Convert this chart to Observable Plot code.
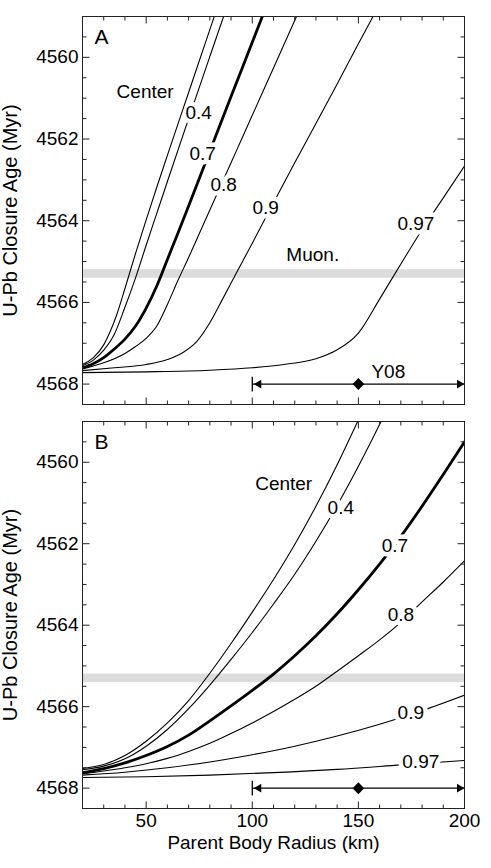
<!DOCTYPE html>
<html><head><meta charset="utf-8">
<script src="https://cdn.jsdelivr.net/npm/d3@7"></script>
<script src="https://cdn.jsdelivr.net/npm/@observablehq/plot@0.6"></script>
<style>
body{margin:0;background:#fff;}
#chart svg{display:block;}
</style></head><body><div id="chart"></div>
<script>
// ---- scales / ticks ----
const xDomain = [20, 200];
const yDomain = [4568.5, 4559];
const xMajorTicks = [50, 100, 150, 200];
const xMinorTicks = [30, 40, 60, 70, 80, 90, 110, 120, 130, 140, 160, 170, 180, 190];
const yMajorTicks = [4560, 4562, 4564, 4566, 4568];
const yMinorTicks = [4559.5, 4560.5, 4561, 4561.5, 4562.5, 4563, 4563.5, 4564.5, 4565, 4565.5, 4566.5, 4567, 4567.5];
const xTitle = "Parent Body Radius (km)";
const yTitle = "U-Pb Closure Age (Myr)";

// ---- panel A curves: [radius km, closure age Myr] ----
const A_center = [[20,4567.52],[25,4567.36],[30,4567.04],[33,4566.72],[36,4566.32],[40,4565.66],[45,4564.8],[50,4563.98],[55,4563.18],[60,4562.4],[70,4560.86],[80,4559.32],[86,4558.4]];
const A_04 = [[20,4567.55],[25,4567.42],[30,4567.17],[35,4566.78],[40,4566.12],[45,4565.4],[50,4564.6],[55,4563.82],[60,4563.04],[70,4561.5],[80,4559.98],[90,4558.47]];
const A_07 = [[20,4567.6],[25,4567.5],[30,4567.35],[35,4567.14],[40,4566.9],[45,4566.58],[50,4566.14],[55,4565.6],[60,4564.95],[65,4564.3],[70,4563.64],[80,4562.3],[90,4560.96],[100,4559.63],[106,4558.83]];
const A_08 = [[20,4567.63],[30,4567.48],[40,4567.25],[45,4567.08],[50,4566.88],[55,4566.58],[60,4566.05],[65,4565.46],[70,4564.9],[75,4564.32],[80,4563.74],[85,4563.16],[90,4562.58],[95,4562.0],[100,4561.42],[110,4560.26],[120,4559.1],[126,4558.4]];
const A_09 = [[20,4567.67],[35,4567.6],[50,4567.52],[60,4567.4],[67,4567.24],[74,4566.95],[80,4566.5],[86,4565.92],[92,4565.33],[100,4564.55],[110,4563.56],[120,4562.58],[130,4561.62],[140,4560.65],[150,4559.67],[160,4558.7]];
const A_097 = [[20,4567.72],[50,4567.7],[80,4567.66],[100,4567.6],[115,4567.52],[130,4567.38],[140,4567.16],[150,4566.75],[160,4565.92],[170,4565.06],[180,4564.22],[190,4563.44],[200,4562.66]];

// ---- panel B curves ----
const B_center = [[20,4567.52],[30,4567.42],[40,4567.2],[50,4566.85],[60,4566.4],[70,4565.85],[80,4565.18],[90,4564.45],[100,4563.68],[110,4562.88],[120,4562.02],[130,4561.08],[140,4560.06],[150,4558.96],[155,4558.4]];
const B_04 = [[20,4567.55],[30,4567.46],[40,4567.28],[50,4566.97],[60,4566.56],[70,4566.05],[80,4565.47],[90,4564.84],[100,4564.18],[110,4563.48],[120,4562.75],[130,4561.94],[140,4561.06],[150,4560.1],[160,4559.07],[166,4558.4]];
const B_07 = [[20,4567.62],[30,4567.52],[40,4567.38],[50,4567.2],[60,4566.98],[70,4566.7],[80,4566.35],[90,4565.98],[100,4565.6],[110,4565.2],[120,4564.75],[130,4564.26],[140,4563.72],[150,4563.13],[160,4562.5],[170,4561.82],[180,4561.08],[190,4560.3],[200,4559.5]];
const B_08 = [[20,4567.65],[30,4567.58],[40,4567.5],[50,4567.4],[60,4567.27],[70,4567.1],[80,4566.9],[90,4566.66],[100,4566.4],[110,4566.12],[120,4565.82],[130,4565.5],[140,4565.13],[150,4564.75],[160,4564.36],[170,4563.93],[180,4563.43],[190,4562.94],[200,4562.42]];
const B_09 = [[20,4567.68],[40,4567.61],[60,4567.5],[80,4567.36],[100,4567.18],[120,4566.97],[140,4566.72],[160,4566.43],[180,4566.1],[200,4565.72]];
const B_097 = [[20,4567.74],[50,4567.72],[80,4567.68],[110,4567.62],[140,4567.54],[170,4567.43],[200,4567.32]];

// ---- inline curve labels (radius, age) ----
const labelsA = [
  {text: "Center", r: 49.5, age: 4560.84},
  {text: "0.4", r: 74.7, age: 4561.37},
  {text: "0.7", r: 76.6, age: 4562.36},
  {text: "0.8", r: 86.5, age: 4563.12},
  {text: "0.9", r: 106.3, age: 4563.69},
  {text: "0.97", r: 177.1, age: 4564.08}
];
const labelsB = [
  {text: "Center", r: 114.8, age: 4560.53},
  {text: "0.4", r: 141.7, age: 4561.13},
  {text: "0.7", r: 167.2, age: 4562.05},
  {text: "0.8", r: 170, age: 4563.74},
  {text: "0.9", r: 174.7, age: 4566.16},
  {text: "0.97", r: 179.4, age: 4567.35}
];

// ---- Muon. band and Y08 estimate ----
const muonBand = [{y1: 4565.2, y2: 4565.41}];
const muonLabel = [{text: "Muon.", r: 128.5, age: 4564.84}];
const y08 = [{lo: 100, mid: 150, hi: 200, age: 4568}];
const y08Label = [{text: "Y08", r: 164.1, age: 4567.69}];

const FONT = "'Liberation Sans', Arial, Helvetica, sans-serif";
// custom glyphs (pixel geometry only)
const seg = (dx, dy) => ({draw(ctx) { ctx.moveTo(0, 0); ctx.lineTo(dx, dy); }});
const vbar = {draw(ctx) { ctx.moveTo(0, -7.3); ctx.lineTo(0, 7.3); }};
const headLeft = {draw(ctx) { ctx.moveTo(1.5, 0); ctx.lineTo(9, -4.3); ctx.lineTo(9, 4.3); ctx.closePath(); }};
const headRight = {draw(ctx) { ctx.moveTo(0, 0); ctx.lineTo(-7.5, -4.3); ctx.lineTo(-7.5, 4.3); ctx.closePath(); }};
const diamond = {draw(ctx) { ctx.moveTo(0, -6); ctx.lineTo(5.8, 0); ctx.lineTo(0, 6); ctx.lineTo(-5.8, 0); ctx.closePath(); }};

function panel({curves, labels, letter, height, marginTop, marginBottom, showX, extraText}) {
  const lineOf = (data, w) => Plot.line(data, {x: d => d[0], y: d => d[1], stroke: "black", strokeWidth: w, curve: "monotone-x", clip: true});
  const [center, ...others] = curves;
  const tk = (ticks, axis, sym) => Plot.dot(ticks, axis === "y"
    ? {x: () => sym.edge, y: d => d, symbol: sym.s, r: 5, stroke: "#222", strokeWidth: 1, fill: "none"}
    : {x: d => d, y: () => sym.edge, symbol: sym.s, r: 5, stroke: "#222", strokeWidth: 1, fill: "none"});
  const marks = [
    Plot.rect(muonBand, {x1: () => xDomain[0], x2: () => xDomain[1], y1: "y1", y2: "y2", fill: "#dcdcdc"}),
    Plot.link(y08, {x1: "lo", x2: "hi", y1: "age", y2: "age", stroke: "black", strokeWidth: 1.3}),
    Plot.dot(y08, {x: "lo", y: "age", symbol: vbar, r: 5, stroke: "black", strokeWidth: 1.3, fill: "none"}),
    Plot.dot(y08, {x: "lo", y: "age", symbol: headLeft, r: 5, fill: "black", stroke: "none"}),
    Plot.dot(y08, {x: "hi", y: "age", symbol: headRight, r: 5, fill: "black", stroke: "none"}),
    Plot.dot(y08, {x: "mid", y: "age", symbol: diamond, r: 5, fill: "black", stroke: "none"}),
    ...others.map((c, i) => lineOf(c, i === 1 ? 2.8 : 1.1)),
    Plot.text(labels, {x: "r", y: "age", text: "text", fontSize: 19, fill: "black", stroke: "white", strokeWidth: 9, strokeLinejoin: "round", paintOrder: "stroke"}),
    lineOf(center, 1.1),
    ...extraText.map(t => Plot.text(t, {x: "r", y: "age", text: "text", fontSize: 19, fill: "black"})),
    Plot.text([letter], {text: d => d, frameAnchor: "top-left", textAnchor: "start", lineAnchor: "top", dx: 12, dy: 13, fontSize: 21, fill: "black"}),
    // inward ticks on all four sides
    tk(yMajorTicks, "y", {edge: xDomain[0], s: seg(7, 0)}),
    tk(yMinorTicks, "y", {edge: xDomain[0], s: seg(4, 0)}),
    tk(yMajorTicks, "y", {edge: xDomain[1], s: seg(-7, 0)}),
    tk(yMinorTicks, "y", {edge: xDomain[1], s: seg(-4, 0)}),
    tk(xMajorTicks, "x", {edge: yDomain[0], s: seg(0, -7)}),
    tk(xMinorTicks, "x", {edge: yDomain[0], s: seg(0, -4)}),
    tk(xMajorTicks, "x", {edge: yDomain[1], s: seg(0, 7)}),
    tk(xMinorTicks, "x", {edge: yDomain[1], s: seg(0, 4)}),
    Plot.text(yMajorTicks, {x: () => xDomain[0], y: d => d, text: d => String(d), textAnchor: "end", dx: -4, fontSize: 19, fill: "black"}),
    Plot.text([yTitle], {text: d => d, frameAnchor: "left", textAnchor: "middle", rotate: -90, dx: -72, fontSize: 20, fill: "black"}),
    Plot.frame({stroke: "#222", strokeWidth: 1})
  ];
  if (showX) {
    marks.push(Plot.text(xMajorTicks, {x: d => d, y: () => yDomain[0], text: d => String(d), lineAnchor: "top", dy: 5, fontSize: 19, fill: "black"}));
    marks.push(Plot.text([xTitle], {text: d => d, frameAnchor: "bottom", lineAnchor: "top", dy: 27, fontSize: 19, fill: "black"}));
  }
  return Plot.plot({
    width: 491, height, marginLeft: 82, marginRight: 27, marginTop, marginBottom,
    x: {domain: xDomain, axis: null},
    y: {domain: yDomain, axis: null},
    style: {fontFamily: FONT, fontSize: "19px", color: "black", background: "white", overflow: "visible"},
    marks
  });
}

const chart = document.getElementById("chart");
chart.append(panel({
  curves: [A_center, A_04, A_07, A_08, A_09, A_097], labels: labelsA, letter: "A",
  height: 412, marginTop: 16, marginBottom: 8, showX: false, extraText: [muonLabel, y08Label]
}));
chart.append(panel({
  curves: [B_center, B_04, B_07, B_08, B_09, B_097], labels: labelsB, letter: "B",
  height: 456, marginTop: 9, marginBottom: 60, showX: true, extraText: []
}));
</script></body></html>
